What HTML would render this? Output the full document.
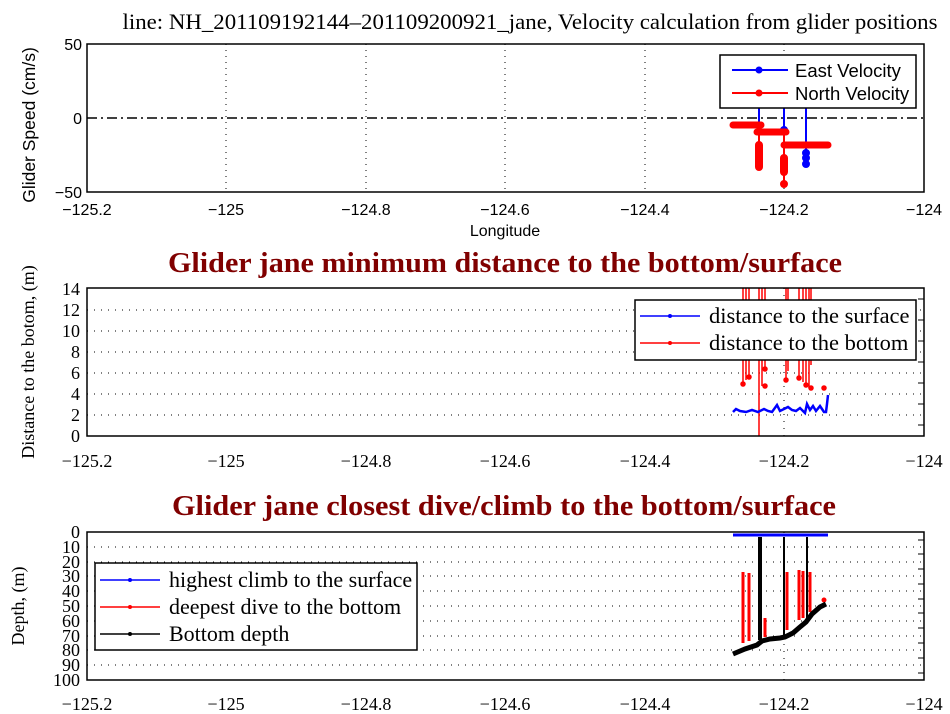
<!DOCTYPE html><html><head><style>body{margin:0;background:#fff}svg{display:block}</style></head><body>
<svg width="950" height="714" xmlns="http://www.w3.org/2000/svg" font-family="Liberation Serif, serif">
<rect width="950" height="714" fill="#fff"/>
<!-- Panel 1 -->
<text x="530" y="29" font-size="22.5" text-anchor="middle" textLength="815" lengthAdjust="spacingAndGlyphs">line: NH_201109192144–201109200921_jane, Velocity calculation from glider positions</text>
<g stroke="#000" stroke-dasharray="1,5" stroke-width="1">
<line x1="226" y1="44" x2="226" y2="192"/><line x1="366" y1="44" x2="366" y2="192"/><line x1="505" y1="44" x2="505" y2="192"/><line x1="645" y1="44" x2="645" y2="192"/><line x1="784" y1="44" x2="784" y2="192"/>
</g>
<line x1="87" y1="118" x2="924" y2="118" stroke="#000" stroke-width="1.5" stroke-dasharray="10,4,2,4"/>
<g stroke="#0000ff" stroke-width="2" fill="#0000ff">
<line x1="759" y1="108" x2="759" y2="165"/><line x1="784" y1="108" x2="784" y2="158"/><line x1="806" y1="108" x2="806" y2="165"/>
<circle cx="806" cy="153" r="3"/><circle cx="806" cy="158" r="3"/><circle cx="806" cy="164" r="3"/><circle cx="784" cy="130" r="3"/>
</g>
<g stroke="#ff0000" stroke-width="7" stroke-linecap="round">
<line x1="733" y1="125" x2="761" y2="125"/><line x1="757" y1="132" x2="786" y2="132"/><line x1="784" y1="145" x2="828" y2="145"/>
</g>
<g stroke="#ff0000" stroke-width="2" fill="#ff0000">
<line x1="759" y1="125" x2="759" y2="168"/><line x1="784" y1="132" x2="784" y2="184"/>
<rect x="756" y="142" width="6" height="28" rx="3"/><rect x="781" y="155" width="6" height="20" rx="3"/><circle cx="784" cy="184" r="3"/>
</g>
<rect x="87" y="44" width="837" height="148" fill="none" stroke="#000" stroke-width="1.5"/>
<g font-family="Liberation Sans, sans-serif" font-size="16" text-anchor="middle">
<text x="87" y="215">−125.2</text><text x="226" y="215">−125</text><text x="366" y="215">−124.8</text><text x="505" y="215">−124.6</text><text x="645" y="215">−124.4</text><text x="784" y="215">−124.2</text><text x="924" y="215">−124</text>
<text x="505" y="236">Longitude</text>
<g text-anchor="end"><text x="82" y="50">50</text><text x="82" y="124">0</text><text x="82" y="198">−50</text></g>
<text transform="translate(35,125) rotate(-90)" font-size="17.5">Glider Speed (cm/s)</text>
</g>
<rect x="720" y="55" width="196" height="53" fill="#fff" stroke="#000" stroke-width="1.5"/>
<line x1="732" y1="70" x2="788" y2="70" stroke="#0000ff" stroke-width="2"/><circle cx="759" cy="70" r="3.5" fill="#0000ff"/>
<line x1="732" y1="93" x2="788" y2="93" stroke="#ff0000" stroke-width="2"/><circle cx="759" cy="93" r="3.5" fill="#ff0000"/>
<text x="795" y="77" font-family="Liberation Sans, sans-serif" font-size="18.5">East Velocity</text>
<text x="795" y="100" font-family="Liberation Sans, sans-serif" font-size="18.5">North Velocity</text>

<!-- Panel 2 -->
<text x="505" y="272" font-size="29" font-weight="bold" fill="#800000" text-anchor="middle" textLength="674" lengthAdjust="spacingAndGlyphs">Glider jane minimum distance to the bottom/surface</text>
<g stroke="#000" stroke-dasharray="1,6" stroke-width="1">
<line x1="87" y1="415" x2="924" y2="415"/><line x1="87" y1="394" x2="924" y2="394"/><line x1="87" y1="373" x2="924" y2="373"/><line x1="87" y1="352" x2="924" y2="352"/><line x1="87" y1="331" x2="924" y2="331"/><line x1="87" y1="310" x2="924" y2="310"/>
<line x1="784" y1="288" x2="784" y2="436"/>
</g>
<g stroke="#ff0000" stroke-width="1.5" fill="#ff0000">
<line x1="743" y1="288" x2="743" y2="384"/><line x1="746" y1="288" x2="746" y2="380"/><line x1="749" y1="288" x2="749" y2="377"/><line x1="759" y1="288" x2="759" y2="436"/><line x1="762" y1="288" x2="762" y2="386"/><line x1="765" y1="288" x2="765" y2="369"/>
<line x1="786" y1="288" x2="786" y2="380"/><line x1="788" y1="288" x2="788" y2="371"/><line x1="799" y1="288" x2="799" y2="378"/><line x1="803" y1="288" x2="803" y2="382"/><line x1="806" y1="288" x2="806" y2="385"/><line x1="809" y1="288" x2="809" y2="388"/><line x1="811" y1="288" x2="811" y2="365"/>
<circle cx="743" cy="384" r="2"/><circle cx="749" cy="377" r="2"/><circle cx="765" cy="386" r="2"/><circle cx="765" cy="369" r="2"/><circle cx="786" cy="380" r="2"/><circle cx="799" cy="378" r="2"/><circle cx="806" cy="385" r="2"/><circle cx="811" cy="388" r="2"/><circle cx="824" cy="388" r="2"/>
</g>
<polyline fill="none" stroke="#0000ff" stroke-width="2.5" points="733,412 736,409 740,411 746,412 752,410 758,412 764,409 768,411 772,412 777,405 780,411 784,409 788,407 792,410 796,411 800,408 805,413 807,404 810,410 813,406 816,411 820,406 824,412 826,412 827,404 828,395"/>
<rect x="87" y="288" width="837" height="148" fill="none" stroke="#000" stroke-width="1.5"/>
<g stroke="#000" stroke-width="1">
<line x1="918" y1="299" x2="924" y2="299"/><line x1="918" y1="320" x2="924" y2="320"/><line x1="918" y1="341" x2="924" y2="341"/><line x1="918" y1="362" x2="924" y2="362"/><line x1="918" y1="383" x2="924" y2="383"/><line x1="918" y1="404" x2="924" y2="404"/><line x1="918" y1="425" x2="924" y2="425"/>
</g>
<g font-size="18" text-anchor="middle">
<text x="87" y="467">−125.2</text><text x="226" y="467">−125</text><text x="366" y="467">−124.8</text><text x="505" y="467">−124.6</text><text x="645" y="467">−124.4</text><text x="784" y="467">−124.2</text><text x="924" y="467">−124</text>
<g text-anchor="end"><text x="80" y="442">0</text><text x="80" y="421">2</text><text x="80" y="400">4</text><text x="80" y="379">6</text><text x="80" y="358">8</text><text x="80" y="337">10</text><text x="80" y="316">12</text><text x="80" y="295">14</text></g>
<text transform="translate(34,362) rotate(-90)">Distance to the botom, (m)</text>
</g>
<rect x="635" y="300" width="281" height="60" fill="#fff" stroke="#000" stroke-width="1.5"/>
<line x1="640" y1="316" x2="700" y2="316" stroke="#0000ff" stroke-width="1.5"/><circle cx="670" cy="316" r="2" fill="#0000ff"/>
<line x1="640" y1="343" x2="700" y2="343" stroke="#ff0000" stroke-width="1.5"/><circle cx="670" cy="343" r="2" fill="#ff0000"/>
<text x="709" y="323" font-size="22.5">distance to the surface</text>
<text x="709" y="350" font-size="22.5">distance to the bottom</text>

<!-- Panel 3 -->
<text x="504" y="515" font-size="29" font-weight="bold" fill="#800000" text-anchor="middle" textLength="664" lengthAdjust="spacingAndGlyphs">Glider jane closest dive/climb to the bottom/surface</text>
<g stroke="#000" stroke-dasharray="1,6" stroke-width="1">
<line x1="87" y1="547" x2="924" y2="547"/><line x1="87" y1="562" x2="924" y2="562"/><line x1="87" y1="576" x2="924" y2="576"/><line x1="87" y1="591" x2="924" y2="591"/><line x1="87" y1="606" x2="924" y2="606"/><line x1="87" y1="621" x2="924" y2="621"/><line x1="87" y1="636" x2="924" y2="636"/><line x1="87" y1="650" x2="924" y2="650"/><line x1="87" y1="665" x2="924" y2="665"/>
<line x1="784" y1="532" x2="784" y2="680"/>
</g>
<g stroke="#ff0000" stroke-width="3">
<line x1="743" y1="572" x2="743" y2="643"/><line x1="749" y1="573" x2="749" y2="641"/><line x1="765" y1="618" x2="765" y2="637"/>
<line x1="787" y1="572" x2="787" y2="630"/><line x1="799" y1="570" x2="799" y2="620"/><line x1="803" y1="571" x2="803" y2="618"/><line x1="810" y1="572" x2="810" y2="612"/>
</g>
<circle cx="824" cy="600" r="2.5" fill="#ff0000"/>
<line x1="733" y1="535" x2="828" y2="535" stroke="#0000ff" stroke-width="3"/>
<g stroke="#000" fill="none">
<line x1="760" y1="537" x2="760" y2="640" stroke-width="4"/><line x1="784" y1="537" x2="784" y2="636" stroke-width="2"/><line x1="807" y1="537" x2="807" y2="620" stroke-width="2"/>
<polyline stroke-width="5" points="733,654 745,649 757,645 762,641 770,639 780,638 785,637 793,633 800,627 806,622 812,614 820,607 826,604"/>
</g>
<rect x="87" y="532" width="837" height="148" fill="none" stroke="#000" stroke-width="1.5"/>
<g stroke="#000" stroke-width="1">
<line x1="918" y1="540" x2="924" y2="540"/><line x1="918" y1="554" x2="924" y2="554"/><line x1="918" y1="569" x2="924" y2="569"/><line x1="918" y1="584" x2="924" y2="584"/><line x1="918" y1="599" x2="924" y2="599"/><line x1="918" y1="613" x2="924" y2="613"/><line x1="918" y1="628" x2="924" y2="628"/><line x1="918" y1="643" x2="924" y2="643"/><line x1="918" y1="658" x2="924" y2="658"/><line x1="918" y1="673" x2="924" y2="673"/>
</g>
<g font-size="18" text-anchor="middle">
<text x="87" y="710">−125.2</text><text x="226" y="710">−125</text><text x="366" y="710">−124.8</text><text x="505" y="710">−124.6</text><text x="645" y="710">−124.4</text><text x="784" y="710">−124.2</text><text x="924" y="710">−124</text>
<g text-anchor="end"><text x="80" y="538">0</text><text x="80" y="553">10</text><text x="80" y="568">20</text><text x="80" y="582">30</text><text x="80" y="597">40</text><text x="80" y="612">50</text><text x="80" y="627">60</text><text x="80" y="642">70</text><text x="80" y="656">80</text><text x="80" y="671">90</text><text x="80" y="686">100</text></g>
<text transform="translate(24,606) rotate(-90)">Depth, (m)</text>
</g>
<rect x="95" y="563" width="322" height="87" fill="#fff" stroke="#000" stroke-width="1.5"/>
<line x1="100" y1="580" x2="160" y2="580" stroke="#0000ff" stroke-width="1.5"/><circle cx="130" cy="580" r="2" fill="#0000ff"/>
<line x1="100" y1="607" x2="160" y2="607" stroke="#ff0000" stroke-width="1.5"/><circle cx="130" cy="607" r="2" fill="#ff0000"/>
<line x1="100" y1="634" x2="160" y2="634" stroke="#000" stroke-width="1.5"/><circle cx="130" cy="634" r="2" fill="#000"/>
<text x="169" y="587" font-size="22">highest climb to the surface</text>
<text x="169" y="614" font-size="22">deepest dive to the bottom</text>
<text x="169" y="641" font-size="22">Bottom depth</text>
</svg>
</body></html>
